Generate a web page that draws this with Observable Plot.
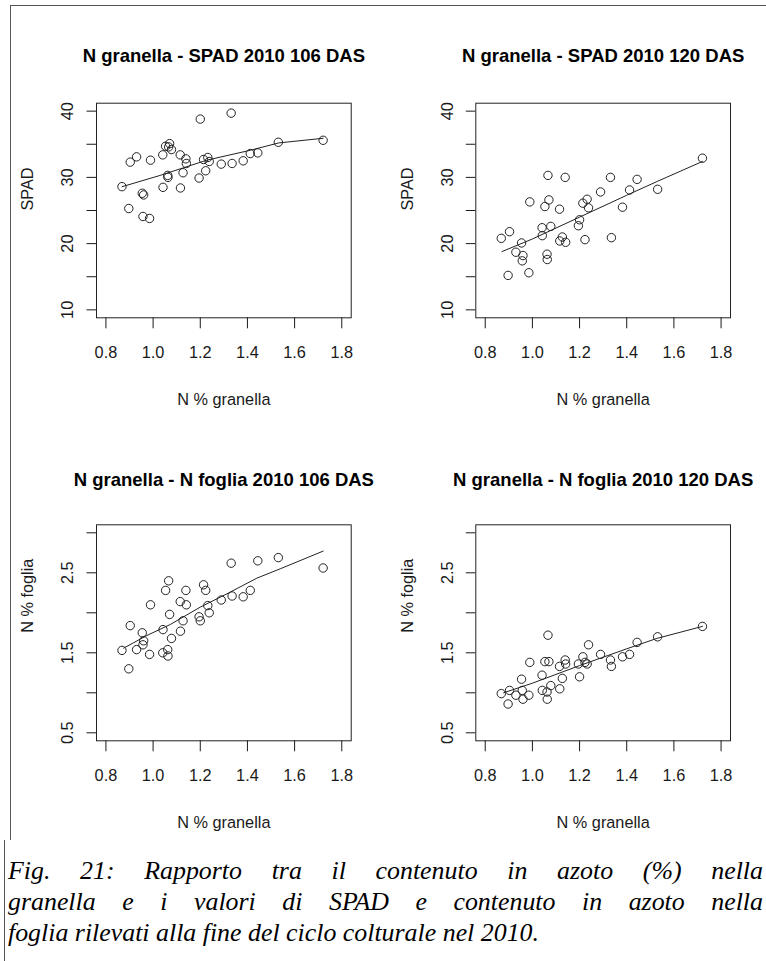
<!DOCTYPE html>
<html>
<head>
<meta charset="utf-8">
<script src="https://cdn.jsdelivr.net/npm/d3@7"></script>
<script src="https://cdn.jsdelivr.net/npm/@observablehq/plot@0.6"></script>
<style>
html, body { margin: 0; padding: 0; background: #fff; }
#wrap { position: relative; width: 766px; height: 961px; overflow: hidden; background: #fff; }
.panel { position: absolute; }
.panel svg { background: transparent !important; overflow: visible; }
.line { position: absolute; background: #555; }
#caption { position: absolute; left: 8px; top: 855px; font-family: "Liberation Serif", "Times New Roman", serif; font-style: italic; font-size: 25.5px; line-height: 31px; color: #000; transform-origin: 0 0; }
#caption .j { text-align: justify; text-align-last: justify; }
#caption .l { text-align: left; white-space: nowrap; }
</style>
</head>
<body>
<div id="wrap">
  <div class="panel" id="p1" style="left:0px;top:0px"></div>
  <div class="panel" id="p2" style="left:383px;top:0px"></div>
  <div class="panel" id="p3" style="left:0px;top:420px"></div>
  <div class="panel" id="p4" style="left:383px;top:420px"></div>
  <div class="line" style="left:10px;top:5px;width:756px;height:1px"></div>
  <div class="line" style="left:10px;top:5px;width:1px;height:835px"></div>
  <div class="line" style="left:4px;top:840px;width:1px;height:121px"></div>
  <div id="caption">
    <div class="j">Fig. 21: Rapporto tra il contenuto in azoto (%) nella</div>
    <div class="j">granella e i valori di SPAD e contenuto in azoto nella</div>
    <div class="l"><span id="cap3">foglia rilevati alla fine del ciclo colturale nel 2010.</span></div>
  </div>
</div>
<script>
// ---- data ----
const nGranella = [0.868,0.897,0.903,0.930,0.954,0.957,0.960,0.985,0.989,1.041,1.042,1.053,1.062,1.063,1.066,1.070,1.078,1.115,1.116,1.127,1.139,1.141,1.195,1.200,1.214,1.223,1.232,1.238,1.289,1.331,1.335,1.382,1.412,1.444,1.531,1.721];
const spad106 = [28.6,25.3,32.3,33.1,27.6,24.1,27.35,23.8,32.6,33.4,28.5,34.7,30.3,30.0,34.6,35.1,34.2,33.4,28.4,30.7,32.8,32.1,29.9,38.8,32.7,31.0,33.0,32.4,32.0,39.7,32.1,32.5,33.6,33.7,35.3,35.6];
const spad120 = [20.8,15.2,21.8,18.7,20.1,17.4,18.2,15.6,26.3,22.4,21.2,25.6,18.4,17.6,30.3,26.6,22.6,25.2,20.4,21.0,30.0,20.2,22.7,23.6,26.1,20.6,26.7,25.4,27.8,30.0,20.9,25.5,28.1,29.7,28.2,32.9];
const nFoglia106 = [1.53,1.30,1.84,1.54,1.75,1.60,1.65,1.48,2.10,1.50,1.79,2.28,1.54,1.46,2.40,1.98,1.68,2.14,1.77,1.90,2.28,2.10,1.95,1.90,2.35,2.28,2.09,2.00,2.16,2.62,2.21,2.20,2.28,2.65,2.69,2.56];
const nFoglia120 = [0.99,0.86,1.03,0.97,1.17,1.03,0.92,0.97,1.38,1.22,1.03,1.39,1.01,0.92,1.72,1.39,1.09,1.33,1.05,1.18,1.41,1.36,1.36,1.20,1.45,1.38,1.36,1.60,1.48,1.41,1.33,1.45,1.48,1.63,1.70,1.83];

// smoothed curves
const fitSpad106X = [0.869,1.03,1.228,1.413,1.532,1.721];
const fitSpad106Y = [28.6,30.3,32.6,34.1,35.2,35.9];
const fitSpad120X = [0.871,1.0,1.2,1.4,1.53,1.721];
const fitSpad120Y = [18.8,20.7,24.0,27.3,29.4,32.4];
const fitNf106X = [0.875,0.974,1.073,1.2,1.313,1.44,1.539,1.721];
const fitNf106Y = [1.558,1.717,1.854,2.071,2.237,2.433,2.55,2.771];
const fitNf120X = [0.878,1.0,1.2,1.4,1.528,1.721];
const fitNf120Y = [1.0,1.12,1.34,1.55,1.68,1.83];

// ticks and labels
const xTicks = [0.8,1.0,1.2,1.4,1.6,1.8];
const spadTicks = [10,15,20,25,30,35,40];
const spadLabels = [10,20,30,40];
const fogliaTicks = [0.5,1.0,1.5,2.0,2.5,3.0];
const fogliaLabels = [0.5,1.5,2.5];

const titles = ["N granella - SPAD 2010 106 DAS","N granella - SPAD 2010 120 DAS","N granella - N foglia 2010 106 DAS","N granella - N foglia 2010 120 DAS"];
const xLabel = "N % granella";
const yLabels = ["SPAD","SPAD","N % foglia","N % foglia"];

// ---- drawing ----
const W = 383, H = 420;
const FONT = "'Liberation Sans', Arial, Helvetica, sans-serif";
const ink = "#1a1a1a";

function panel(id, cfg) {
  const pts = nGranella.map((x, i) => ({x, y: cfg.ys[i]}));
  const fit = cfg.fx.map((x, i) => ({x, y: cfg.fy[i]}));
  const svg = Plot.plot({
    width: W, height: H,
    marginLeft: cfg.mL, marginRight: cfg.mR, marginTop: cfg.mT, marginBottom: cfg.mB,
    style: {fontFamily: FONT, fontSize: "16.3px", color: ink, background: "transparent", overflow: "visible"},
    x: {domain: [0.76, 1.84], ticks: xTicks, tickFormat: d3.format(".1f"), tickSize: 11, tickPadding: 18, label: null},
    y: {domain: cfg.yDomain, ticks: cfg.yTicks, tickSize: 9.5, tickFormat: () => "", label: null},
    marks: [
      Plot.frame({stroke: "#222", strokeWidth: 1}),
      Plot.line(fit, {x: "x", y: "y", stroke: "#222", strokeWidth: 1}),
      Plot.dot(pts, {x: "x", y: "y", r: 4.2, stroke: "#222", strokeWidth: 1, fill: "none"}),
      Plot.text(cfg.yLab, {y: d => d, text: cfg.yFmt, frameAnchor: "left", dx: -28.5, rotate: -90, lineAnchor: "middle", textAnchor: "middle", fontSize: 16.3, fill: ink}),
      Plot.text([cfg.title], {text: d => d, frameAnchor: "top", dy: cfg.tdy, lineAnchor: "middle", fontWeight: "bold", fontSize: 18.5, fill: "#000"}),
      Plot.text([xLabel], {text: d => d, frameAnchor: "bottom", dy: 81.5, lineAnchor: "middle", fontSize: 16.3, fill: ink}),
      Plot.text([cfg.ylabel], {text: d => d, frameAnchor: "left", dx: -68.5, rotate: -90, lineAnchor: "middle", fontSize: 16.3, fill: ink})
    ]
  });
  document.getElementById(id).append(svg);
}

const top1 = {mT: 102.7, mB: 102.7, tdy: -46.9};
const top2 = {mT: 104.3, mB: 99.7, tdy: -44.6};
const leftM = {mL: 96, mR: 32.3};
const rightM = {mL: 92.3, mR: 36};
const spadCfg = {yDomain: [8.8, 41.2], yTicks: spadTicks, yLab: spadLabels, yFmt: d => String(d)};
const fogCfg = {yDomain: [0.4, 3.1], yTicks: fogliaTicks, yLab: fogliaLabels, yFmt: d => d.toFixed(1)};

panel("p1", {...top1, ...leftM, ...spadCfg, ys: spad106, fx: fitSpad106X, fy: fitSpad106Y, title: titles[0], ylabel: yLabels[0]});
panel("p2", {...top1, ...rightM, ...spadCfg, ys: spad120, fx: fitSpad120X, fy: fitSpad120Y, title: titles[1], ylabel: yLabels[1]});
panel("p3", {...top2, ...leftM, ...fogCfg, ys: nFoglia106, fx: fitNf106X, fy: fitNf106Y, title: titles[2], ylabel: yLabels[2]});
panel("p4", {...top2, ...rightM, ...fogCfg, ys: nFoglia120, fx: fitNf120X, fy: fitNf120Y, title: titles[3], ylabel: yLabels[3]});

// caption fitting: last line spans ~531px, justified lines span ~755px
const cap = document.getElementById("caption");
const w3 = document.getElementById("cap3").getBoundingClientRect().width;
const s = 531 / w3;
cap.style.width = (755 / s) + "px";
cap.style.transform = `scaleX(${s})`;
</script>
</body>
</html>
